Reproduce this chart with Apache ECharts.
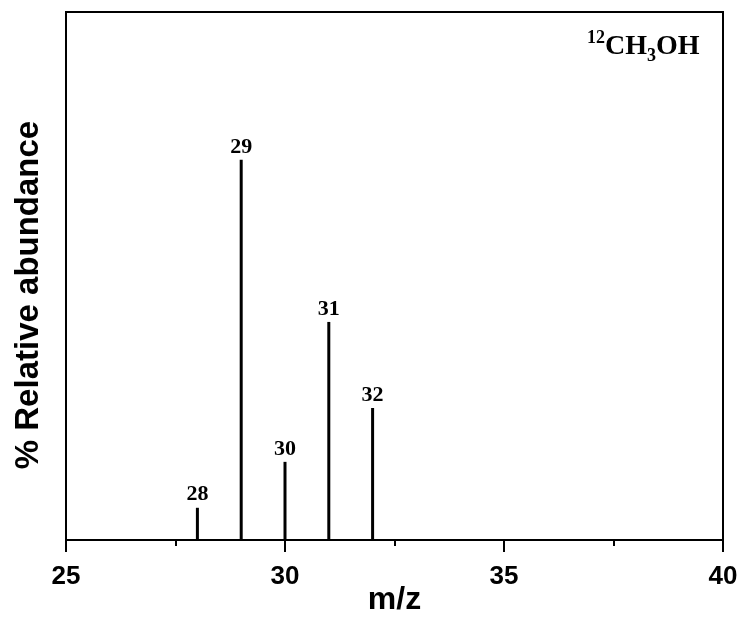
<!DOCTYPE html>
<html>
<head>
<meta charset="utf-8">
<script src="https://cdn.jsdelivr.net/npm/echarts@6/dist/echarts.min.js"></script>
<style>
  html, body { margin: 0; padding: 0; background: #fff; }
  #chart { width: 740px; height: 618px; }
</style>
</head>
<body>
<div id="chart"></div>
<script>
// m/z peaks and their relative abundance
let massValues = [28, 29, 30, 31, 32];
let abundance = [6.1, 72.0, 14.8, 41.3, 25.0];

let xTicks = [25, 30, 35, 40];

let peaks = [];
for (let i = 0; i < massValues.length; i++) {
    peaks.push([massValues[i], abundance[i]]);
}

let myChart = echarts.init(document.getElementById('chart'));
myChart.setOption({
    animation: false,
    backgroundColor: '#fff',
    grid: {
        left: 66, right: 17, top: 12, bottom: 78,
        outerBoundsMode: 'none',
        containLabel: false,
        show: true,
        borderColor: '#000',
        borderWidth: 2
    },
    graphic: [{
        type: 'text',
        left: 587,
        top: 27,
        style: {
            text: '{sup|12}{main|CH}{sub|3}{main|OH}',
            rich: {
                main: {fontFamily: 'Liberation Serif', fontWeight: 'bold', fontSize: 28, fill: '#000', lineHeight: 34, verticalAlign: 'bottom'},
                sup: {fontFamily: 'Liberation Serif', fontWeight: 'bold', fontSize: 18, fill: '#000', lineHeight: 34, verticalAlign: 'top', padding: [2, 0, 0, 0]},
                sub: {fontFamily: 'Liberation Serif', fontWeight: 'bold', fontSize: 18, fill: '#000', lineHeight: 34, verticalAlign: 'bottom', padding: [0, 0, -4, 0]}
            }
        }
    }],
    xAxis: {
        type: 'value',
        min: xTicks[0],
        max: xTicks[xTicks.length - 1],
        interval: 5,
        name: 'm/z',
        nameLocation: 'middle',
        nameGap: 44,
        nameMoveOverlap: false,
        nameTextStyle: {fontFamily: 'Liberation Sans', fontWeight: 'bold', fontSize: 32, color: '#000'},
        axisLine: {show: true, onZero: false, lineStyle: {color: '#000', width: 2}},
        axisTick: {show: true, inside: false, length: 12, lineStyle: {color: '#000', width: 2}},
        minorTick: {show: true, splitNumber: 2, length: 6, lineStyle: {color: '#000', width: 2}},
        axisLabel: {margin: 24, fontFamily: 'Liberation Sans', fontWeight: 'bold', fontSize: 26, color: '#000'},
        splitLine: {show: false}
    },
    yAxis: {
        type: 'value',
        min: 0,
        max: 100,
        name: '% Relative abundance',
        nameLocation: 'middle',
        nameGap: 21,
        nameMoveOverlap: false,
        nameTextStyle: {fontFamily: 'Liberation Sans', fontWeight: 'bold', fontSize: 33, color: '#000', padding: [0, 38, 0, 0]},
        axisLine: {show: true, lineStyle: {color: '#000', width: 2}},
        axisTick: {show: false},
        axisLabel: {show: false},
        splitLine: {show: false}
    },
    series: [{
        type: 'bar',
        data: peaks,
        barWidth: 3,
        itemStyle: {color: '#000'},
        label: {
            show: true,
            position: 'top',
            distance: 2,
            formatter: (p) => p.value[0],
            fontFamily: 'Liberation Serif',
            fontWeight: 'bold',
            fontSize: 22,
            color: '#000'
        }
    }]
});
</script>
</body>
</html>
